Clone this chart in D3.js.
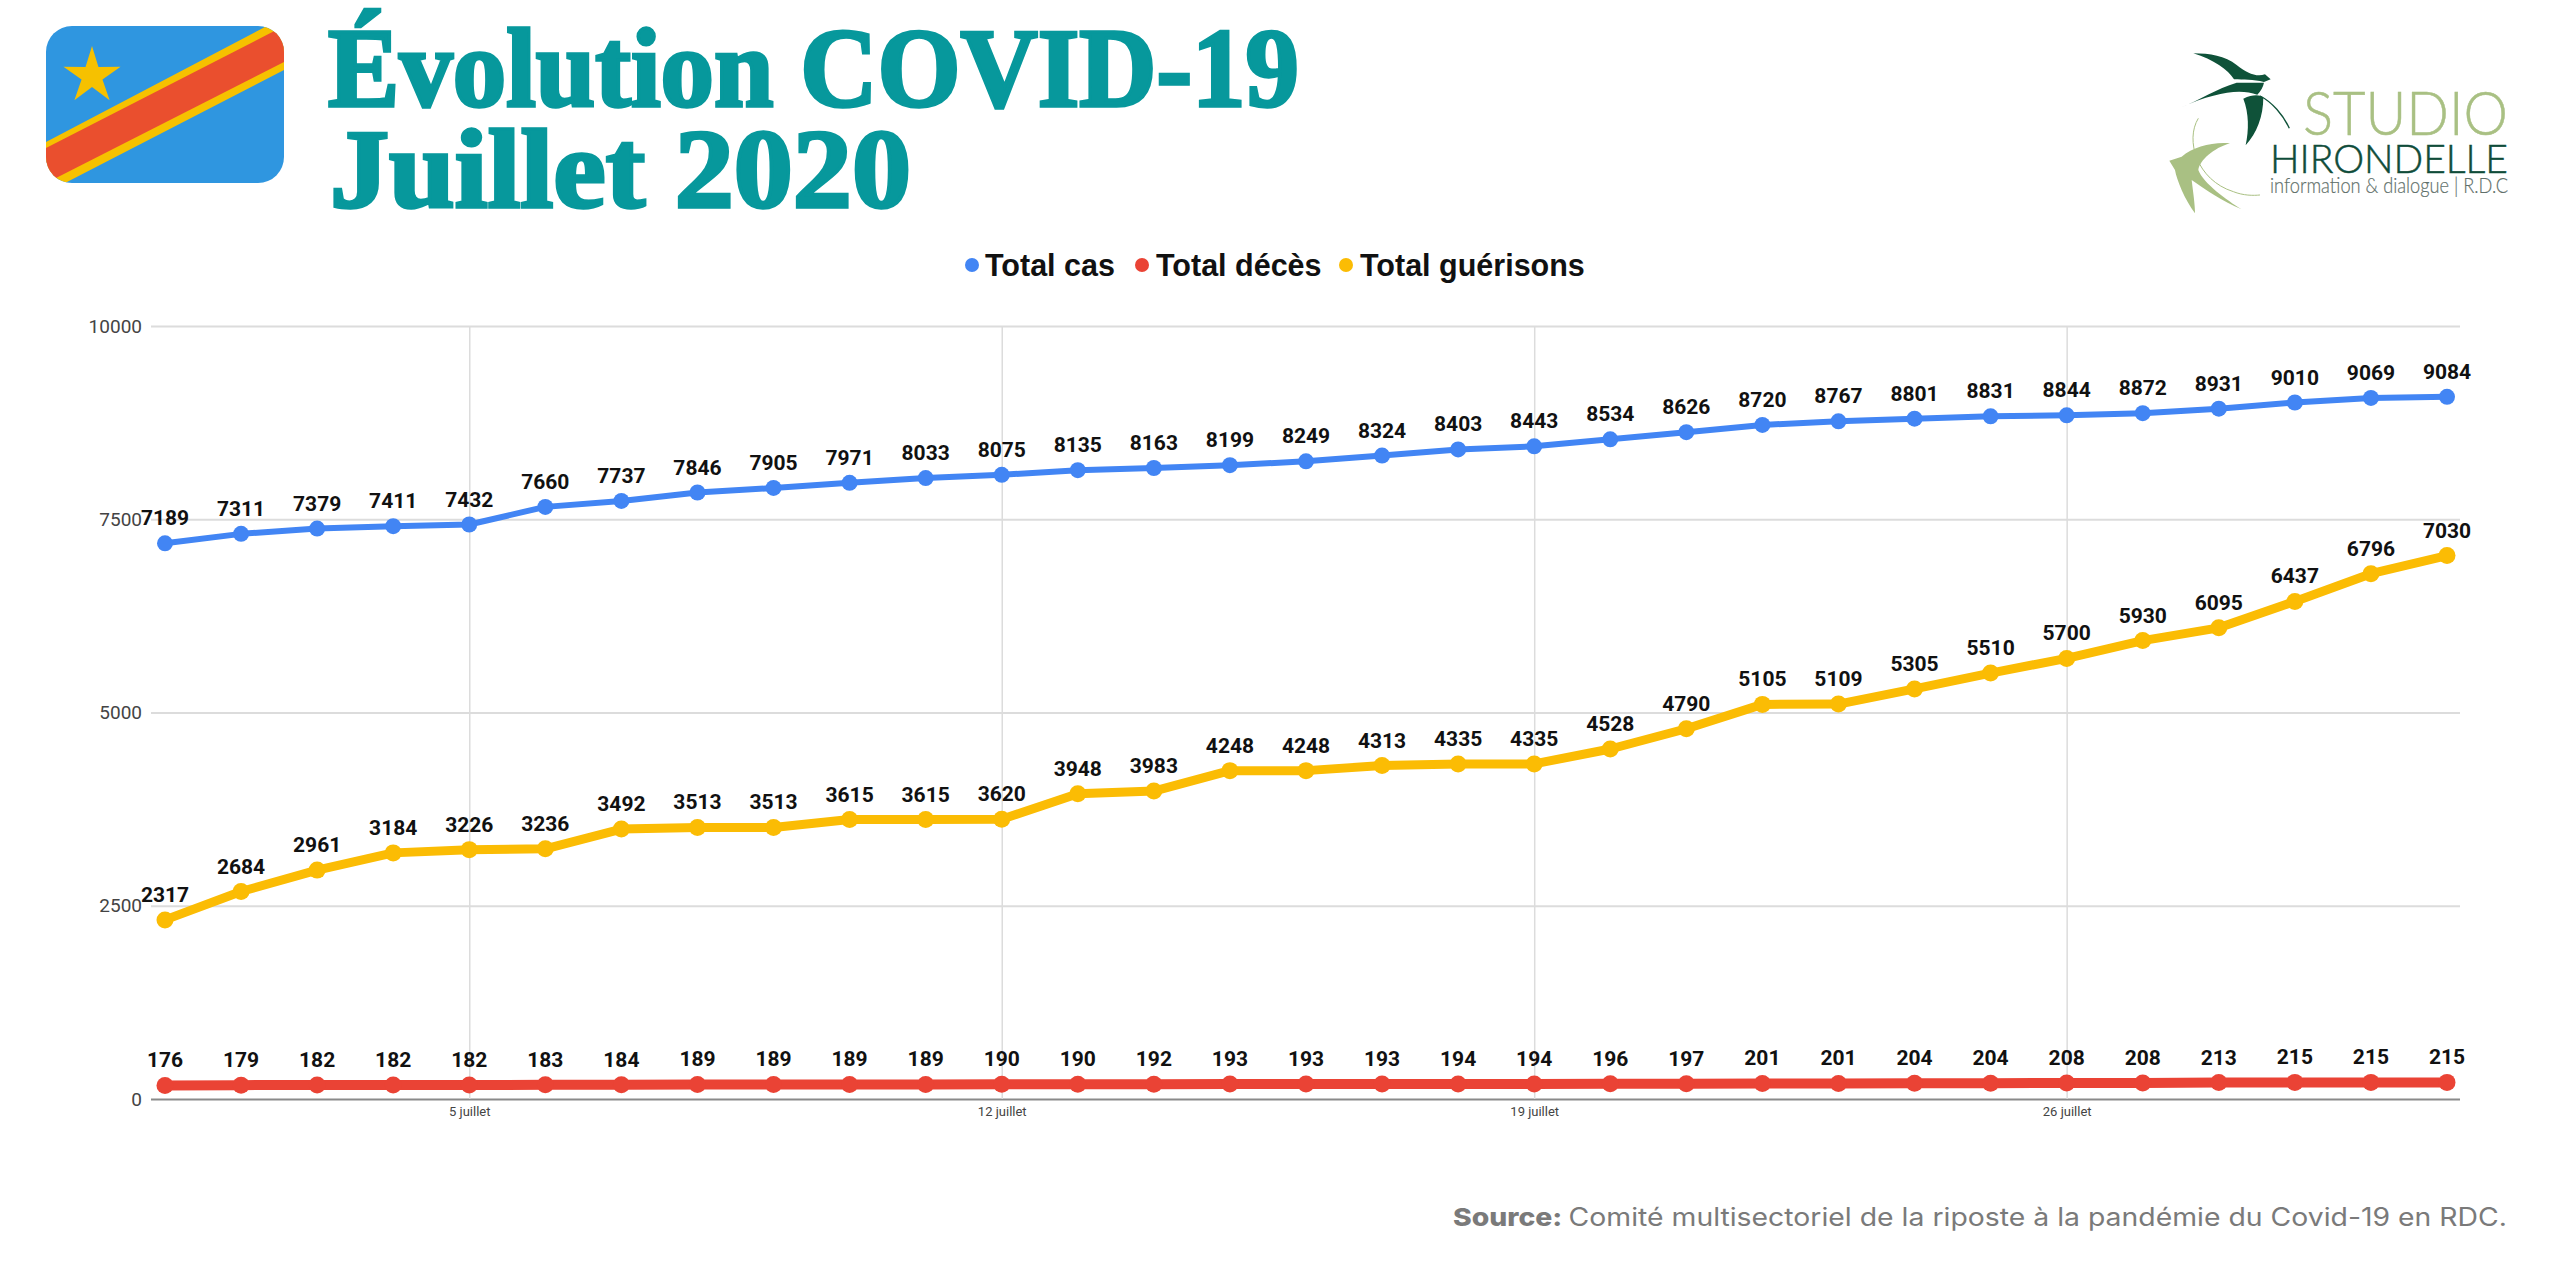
<!DOCTYPE html>
<html><head><meta charset="utf-8">
<script src="https://cdn.jsdelivr.net/npm/d3@7/dist/d3.min.js"></script>
<style>html,body{margin:0;padding:0;background:#fff}svg{display:block}</style>
</head><body><svg id="c" width="2560" height="1280"></svg>
<script>
const days = d3.range(1, 32);
const totalCas = [7189,7311,7379,7411,7432,7660,7737,7846,7905,7971,8033,8075,8135,8163,8199,8249,8324,8403,8443,8534,8626,8720,8767,8801,8831,8844,8872,8931,9010,9069,9084];
const totalDeces = [176,179,182,182,182,183,184,189,189,189,189,190,190,192,193,193,193,194,194,196,197,201,201,204,204,208,208,213,215,215,215];
const totalGuerisons = [2317,2684,2961,3184,3226,3236,3492,3513,3513,3615,3615,3620,3948,3983,4248,4248,4313,4335,4335,4528,4790,5105,5109,5305,5510,5700,5930,6095,6437,6796,7030];
const yTicks = [0,2500,5000,7500,10000];
const xTicks = [5,12,19,26];
const seriesNames = ["Total cas","Total décès","Total guérisons"];
const seriesColors = ["#4285f4","#ea4335","#fbbc04"];

const svg = d3.select("#c");
svg.append("rect").attr("width",2560).attr("height",1280).attr("fill","#fff");
const x = d3.scalePoint().domain(days).range([165,2447]);
const y = d3.scaleLinear().domain([0,10000]).range([1099,326]);
const L = 151, R = 2460;
const roboto = "Roboto, sans-serif";

// y axis + horizontal grid
const ya = svg.append("g").attr("transform",`translate(${L},0)`)
  .call(d3.axisLeft(y).tickValues(yTicks).tickFormat(d3.format("d")).tickSize(-(R-L)).tickPadding(9));
ya.select(".domain").remove();
ya.selectAll("line").attr("stroke",d=>d===0?"#8a8a8a":"#dcdcdc").attr("stroke-width",2);
ya.selectAll("text").attr("font-family",roboto).attr("font-size",19).attr("fill","#444");

// x axis + vertical grid
const xa = svg.append("g").attr("transform","translate(0,1099)")
  .call(d3.axisBottom(x).tickValues(xTicks).tickFormat(d=>d+" juillet").tickSize(-773).tickPadding(8));
xa.select(".domain").remove();
xa.selectAll("line").attr("stroke","#dcdcdc").attr("stroke-width",1.5);
xa.selectAll("text").attr("font-family",roboto).attr("font-size",13).attr("fill","#444");

const line = d3.line().x((d,i)=>x(days[i])).y(d=>y(d));
const series = [
 {v:totalGuerisons,c:seriesColors[2],w:9,r:8.5},
 {v:totalDeces,c:seriesColors[1],w:10,r:8.5},
 {v:totalCas,c:seriesColors[0],w:6,r:8}
];
series.forEach(s=>{
  const g = svg.append("g");
  g.append("path").datum(s.v).attr("d",line).attr("fill","none").attr("stroke",s.c).attr("stroke-width",s.w).attr("stroke-linejoin","round");
  g.selectAll("circle").data(s.v).join("circle").attr("cx",(d,i)=>x(days[i])).attr("cy",d=>y(d)).attr("r",s.r).attr("fill",s.c);
  g.selectAll("text").data(s.v).join("text").attr("x",(d,i)=>x(days[i])).attr("y",d=>y(d)-18)
    .attr("text-anchor","middle").attr("font-family",roboto).attr("font-weight",700).attr("font-size",21).attr("fill","#111").text(d=>d);
});

// legend
const legX = [[972,985],[1142,1156],[1346,1360]];
seriesNames.forEach((n,i)=>{
  svg.append("circle").attr("cx",legX[i][0]).attr("cy",265).attr("r",7).attr("fill",seriesColors[i]);
  svg.append("text").attr("x",legX[i][1]).attr("y",276).attr("font-family","'Liberation Sans',Arial,sans-serif")
    .attr("font-weight",700).attr("font-size",30.5).attr("fill","#111").text(n);
});

// title
[["Évolution COVID-19",328,106,971],["Juillet 2020",330,207,581]].forEach(t=>{
  svg.append("text").attr("x",t[1]).attr("y",t[2]).attr("font-family","'Liberation Serif',serif").attr("font-weight",700)
   .attr("font-size",112).attr("fill","#07989c").attr("stroke","#07989c").attr("stroke-width",3.5)
   .attr("textLength",t[3]).attr("lengthAdjust","spacingAndGlyphs").text(t[0]);
});

// flag
const defs = svg.append("defs");
defs.append("clipPath").attr("id","fl").append("rect").attr("x",46).attr("y",26).attr("width",238).attr("height",157).attr("rx",26);
const flag = svg.append("g").attr("clip-path","url(#fl)");
flag.append("rect").attr("x",46).attr("y",26).attr("width",238).attr("height",157).attr("fill","#2f96e0");
flag.append("path").attr("d","M284,17L284,70L67,182L46,193L46,142Z").attr("fill","#f6c100");
flag.append("path").attr("d","M290,23L284,62L58,177L46,183L46,148Z").attr("fill","#ea4f2e");
const star = d3.range(10).map(i=>{const r=i%2?11:30,a=-Math.PI/2+i*Math.PI/5;return [92+r*Math.cos(a),76+r*Math.sin(a)];});
flag.append("path").attr("d",d3.line()(star)+"Z").attr("fill","#f6c100");

// logo
const logo = svg.append("g");
const lg = logo.append("g").attr("transform","translate(2100,20) scale(0.3333)");
lg.append("path").attr("fill","#0f5239").attr("d","M280,100C330,100 375,108 410,135C440,160 470,172 495,163L512,178L492,186C460,178 430,180 402,178C385,150 340,118 280,100Z");
lg.append("path").attr("fill","#0f5239").attr("d","M240,263C300,240 350,205 410,188L492,188C490,200 482,214 472,224C420,205 350,215 240,263Z");
lg.append("path").attr("fill","#0f5239").attr("d","M430,236C460,222 480,225 490,232C490,290 470,340 437,376C447,330 447,280 430,236Z");
lg.append("path").attr("fill","none").attr("stroke","#0f5239").attr("stroke-width",4).attr("d","M480,228C515,245 550,285 568,325");
lg.append("path").attr("fill","none").attr("stroke","#a9c083").attr("stroke-width",3).attr("d","M295,295C255,360 290,480 400,515C430,527 460,527 480,525");
lg.append("path").attr("fill","#a9c083").attr("d","M208,422L245,410C280,380 340,365 390,370C340,385 300,420 295,450C310,490 380,540 425,568C370,545 310,505 275,480C280,520 285,555 285,580C255,540 230,480 225,450Z");
const lf = "Lato, 'Open Sans', sans-serif";
[["STUDIO",2303,135,62,205,"#a9c083",0.5],["HIRONDELLE",2270,173,39,238,"#0f4c3a",0.5],["information & dialogue | R.D.C",2270,193,22,238,"#5f706a",0.2]].forEach(t=>{
  logo.append("text").attr("x",t[1]).attr("y",t[2]).attr("font-family",lf).attr("font-size",t[3]).attr("font-weight",300)
   .attr("fill",t[5]).attr("stroke",t[5]).attr("stroke-width",t[6]).attr("textLength",t[4]).attr("lengthAdjust","spacingAndGlyphs").text(t[0]);
});

// source
const src = svg.append("text").attr("x",1453).attr("y",1226).attr("font-family","Inter, 'Open Sans', sans-serif").attr("font-size",25).attr("fill","#7a7a7a")
  .attr("textLength",1054).attr("lengthAdjust","spacingAndGlyphs");
src.append("tspan").attr("font-weight",800).text("Source: ");
src.append("tspan").attr("font-weight",400).text("Comité multisectoriel de la riposte à la pandémie du Covid-19 en RDC.");
</script></body></html>
